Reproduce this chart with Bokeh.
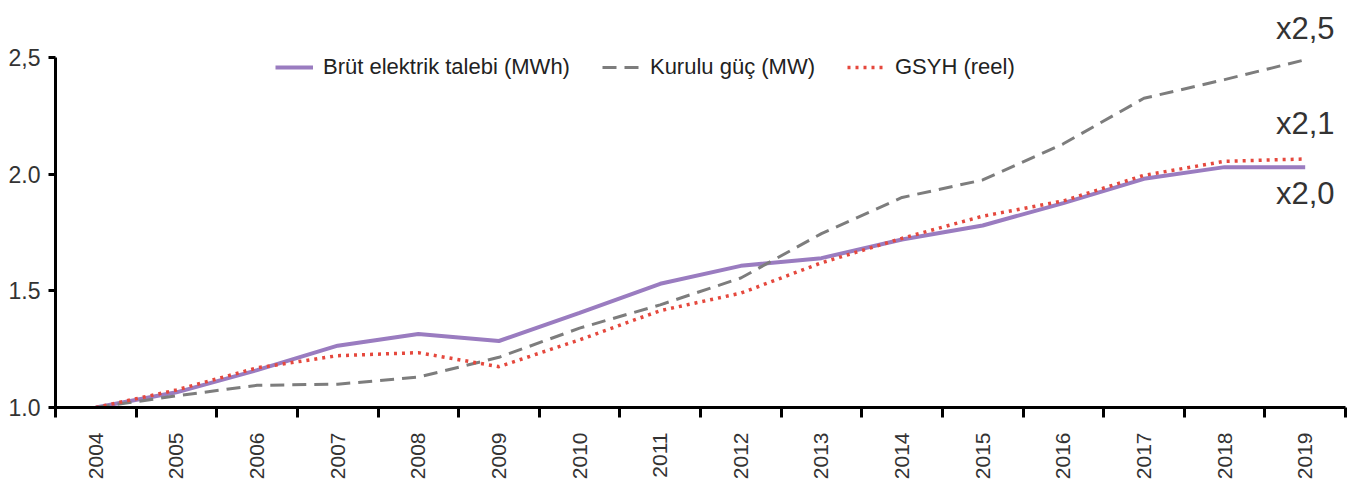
import math
from bokeh.plotting import figure
from bokeh.models import Range1d, FixedTicker, Legend, LegendItem, ColumnDataSource
from bokeh.core.properties import value
from bokeh.embed import file_html
from bokeh.resources import INLINE

years = list(range(2004, 2020))
brut_talep = [1.0, 1.065, 1.16, 1.265, 1.315, 1.285, 1.405, 1.53, 1.607, 1.64, 1.72, 1.78, 1.876, 1.98, 2.03, 2.03]
kurulu_guc = [1.0, 1.05, 1.095, 1.10, 1.13, 1.215, 1.34, 1.44, 1.555, 1.745, 1.90, 1.975, 2.13, 2.325, 2.405, 2.49]
gsyh = [1.0, 1.075, 1.17, 1.222, 1.235, 1.175, 1.29, 1.415, 1.49, 1.62, 1.725, 1.82, 1.885, 1.995, 2.055, 2.065]

y_ticks = [1.0, 1.5, 2.0, 2.5]
y_tick_labels = ["1.0", "1.5", "2.0", "2,5"]

labels_names = ["Brüt elektrik talebi (MWh)", "Kurulu güç (MW)", "GSYH (reel)"]
end_labels = ["x2,5", "x2,1", "x2,0"]
end_label_y = [2.624, 2.218, 1.915]

FONT = "Liberation Sans"

p = figure(width=1349, height=482, output_backend="svg", toolbar_location=None,
           x_range=Range1d(2003.5, 2019.5), y_range=Range1d(1.0, 2.744),
           min_border_left=55, min_border_right=4, min_border_top=0, min_border_bottom=0)
p.outline_line_color = None
p.grid.grid_line_color = None
p.background_fill_color = "white"
p.border_fill_color = "white"

src = ColumnDataSource(dict(x=years, a=brut_talep, b=kurulu_guc, c=gsyh))
r1 = p.line("x", "a", source=src, line_color="#9a7cc0", line_width=4)
r2 = p.line("x", "b", source=src, line_color="#7d7d7d", line_width=3, line_dash="14 8")
r3 = p.line("x", "c", source=src, line_color="#e5483d", line_width=3.5, line_dash="3 5")

p.text(x=[years[-1]] * 3, y=end_label_y, text=end_labels, text_align="center",
       text_baseline="middle", text_font=value(FONT), text_font_size="31px", text_color="#333333")

# x axis
xa = p.xaxis[0]
xa.ticker = FixedTicker(ticks=years, minor_ticks=[y - 0.5 for y in years] + [years[-1] + 0.5])
xa.major_tick_line_color = None
xa.major_tick_out = 10
xa.major_tick_in = 0
xa.minor_tick_out = 10
xa.minor_tick_in = 0
xa.minor_tick_line_color = "black"
xa.minor_tick_line_width = 3
xa.axis_line_width = 3
xa.axis_line_color = "black"
xa.major_label_orientation = math.pi / 2
xa.major_label_text_font = FONT
xa.major_label_text_font_size = "21px"
xa.major_label_text_color = "#333333"
xa.major_label_standoff = 15

# y axis
ya = p.yaxis[0]
ya.ticker = FixedTicker(ticks=y_ticks)
ya.major_label_overrides = {t: l for t, l in zip(y_ticks, y_tick_labels)}
ya.bounds = (1.0, 2.5)
ya.major_tick_out = 7
ya.major_tick_in = 0
ya.minor_tick_line_color = None
ya.major_tick_line_width = 3
ya.axis_line_width = 3
ya.axis_line_color = "black"
ya.major_label_text_font = FONT
ya.major_label_text_font_size = "23px"
ya.major_label_text_color = "#333333"
ya.major_label_standoff = 8

legend = Legend(items=[LegendItem(label=labels_names[0], renderers=[r1]),
                       LegendItem(label=labels_names[1], renderers=[r2]),
                       LegendItem(label=labels_names[2], renderers=[r3])],
                orientation="horizontal", location=(220, 327))
legend.border_line_color = None
legend.background_fill_alpha = 0
legend.padding = 0
legend.margin = 0
legend.glyph_width = 38
legend.glyph_height = 20
legend.label_standoff = 10
legend.spacing = 32
legend.label_text_font = FONT
legend.label_text_font_size = "22px"
legend.label_text_color = "#222222"
p.add_layout(legend, "center")

open("out.html", "w").write(file_html(p, INLINE))
